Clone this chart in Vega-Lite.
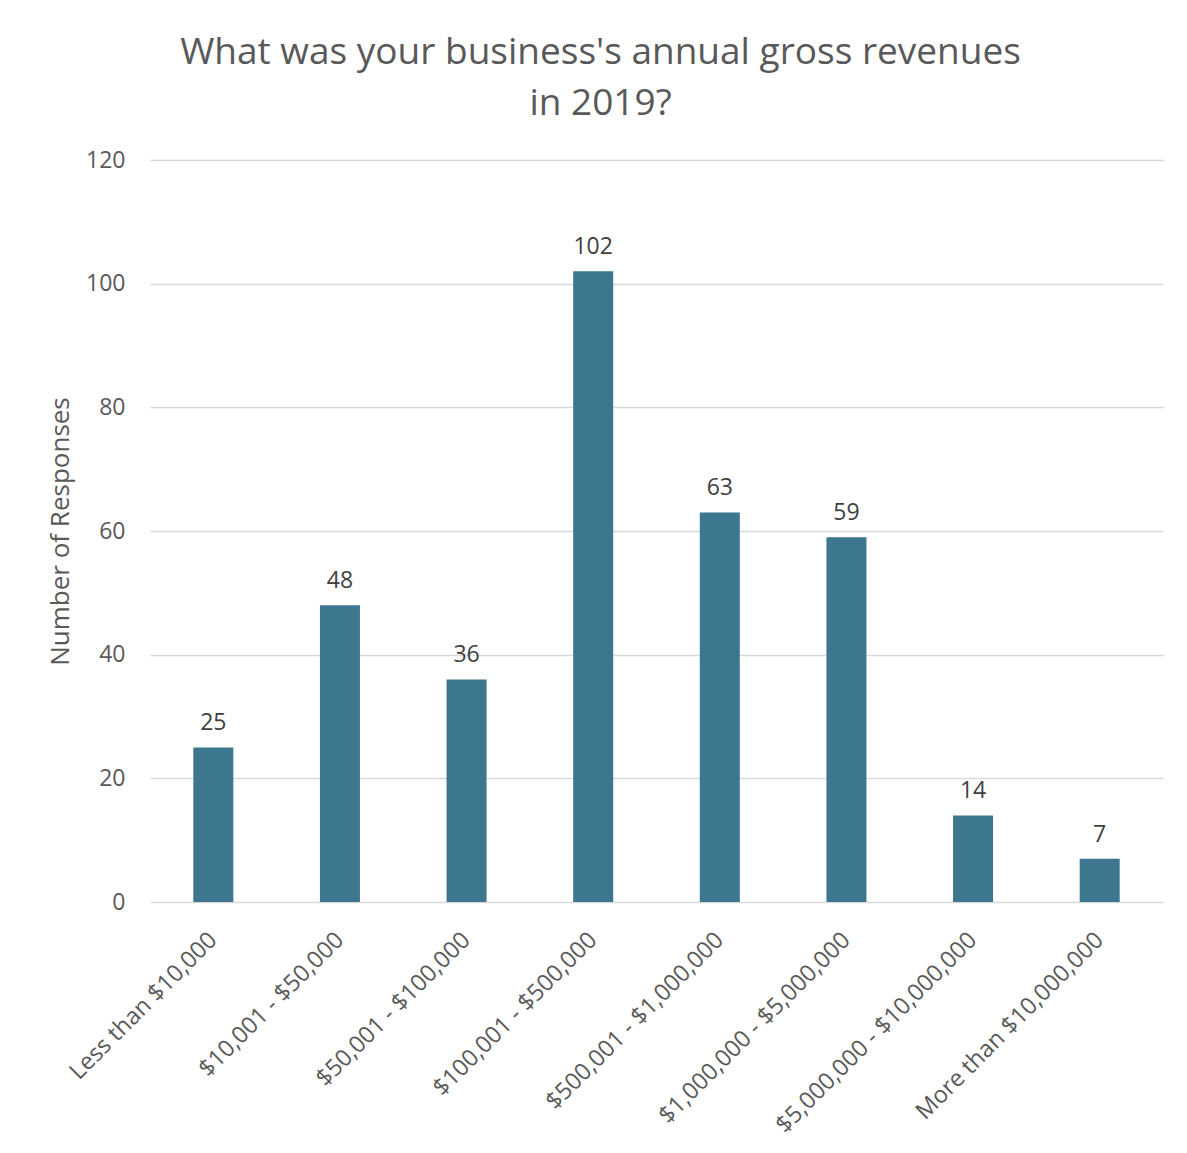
{
  "$schema": "https://vega.github.io/schema/vega-lite/v6.json",
  "autosize": "none",
  "padding": {"left": 150, "top": 160, "right": 24, "bottom": 251},
  "width": 1013,
  "height": 742,
  "background": "white",
  "title": {
    "text": ["What was your business's annual gross revenues", "in 2019?"],
    "font": "Open Sans",
    "fontSize": 37,
    "fontWeight": "normal",
    "color": "#595959",
    "lineHeight": 51,
    "anchor": "middle",
    "dx": -56,
    "offset": 26
  },
  "data": {
    "values": [
      {"category": "Less than $10,000", "responses": 25},
      {"category": "$10,001 - $50,000", "responses": 48},
      {"category": "$50,001 - $100,000", "responses": 36},
      {"category": "$100,001 - $500,000", "responses": 102},
      {"category": "$500,001 - $1,000,000", "responses": 63},
      {"category": "$1,000,000 - $5,000,000", "responses": 59},
      {"category": "$5,000,000 - $10,000,000", "responses": 14},
      {"category": "More than $10,000,000", "responses": 7}
    ]
  },
  "encoding": {
    "x": {
      "field": "category",
      "type": "nominal",
      "sort": null,
      "scale": {"paddingInner": 0.684, "paddingOuter": 0.342},
      "axis": {
        "title": null,
        "labelAngle": -45,
        "labelAlign": "right",
        "labelBaseline": "middle",
        "labelFont": "Open Sans",
        "labelFontSize": 23.5,
        "labelColor": "#595959",
        "labelPadding": 34,
        "labelLimit": 0,
        "labelOverlap": false,
        "ticks": false,
        "domain": false,
        "grid": false
      }
    },
    "y": {
      "field": "responses",
      "type": "quantitative",
      "scale": {"domain": [0, 120]},
      "axis": {
        "title": "Number of Responses",
        "titleFont": "Open Sans",
        "titleFontSize": 26,
        "titleFontWeight": "normal",
        "titleColor": "#595959",
        "titlePadding": 12,
        "values": [0, 20, 40, 60, 80, 100, 120],
        "labelFont": "Open Sans",
        "labelFontSize": 23,
        "labelColor": "#595959",
        "labelPadding": 25,
        "ticks": false,
        "domain": false,
        "grid": true,
        "gridColor": "#d9d9d9",
        "gridWidth": 1.5
      }
    }
  },
  "layer": [
    {"mark": {"type": "bar", "color": "#3C768F"}},
    {
      "mark": {"type": "text", "dy": -12, "baseline": "bottom", "font": "Open Sans", "fontSize": 23, "color": "#404040"},
      "encoding": {"text": {"field": "responses", "type": "quantitative"}}
    }
  ],
  "config": {"view": {"stroke": null}}
}
